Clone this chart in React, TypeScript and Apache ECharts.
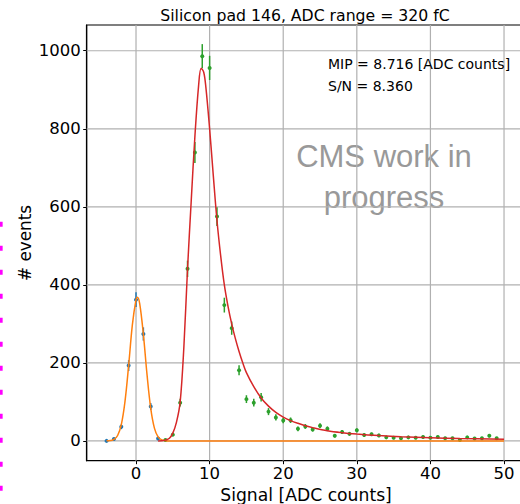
import React, { useEffect, useRef } from "react";
import * as echarts from "echarts";

// Tick values
const xTicks = [0, 10, 20, 30, 40, 50];
const yTicks = [0, 200, 400, 600, 800, 1000];

// Pedestal histogram (blue)
const pedX = [-4, -3, -2, -1, 0, 1, 2, 3];
const pedY = [0, 5, 36, 193, 362, 274, 88, 6];
const pedErr = [1, 2, 6, 14, 19, 17, 9, 2.5];

// Signal histogram (green)
const sigX = [4, 5, 6, 7, 8, 9, 10, 11, 12, 13, 14, 15, 16, 17, 18, 19, 20, 21, 22, 23, 24, 25, 26, 27, 28, 29, 30, 31, 32, 33, 34, 35, 36, 37, 38, 39, 40, 41, 42, 43, 44, 45, 46, 47, 48, 49];
const sigY = [2, 16, 98, 441, 739, 986, 956, 575, 348, 289, 181, 107, 98, 112, 75, 60, 52, 53, 31, 37, 29, 39, 31, 13, 23, 18, 27, 15, 17, 14, 9, 8, 7, 9, 8, 10, 8, 10, 7, 7, 2, 9, 6, 7, 13, 7];
const sigErr = [1.4, 4, 10, 21, 27, 31, 31, 24, 19, 17, 13, 10, 10, 11, 9, 8, 7, 7, 6, 6, 5, 6, 6, 4, 5, 4, 5, 4, 4, 4, 3, 3, 3, 3, 3, 3, 3, 3, 3, 3, 1.4, 3, 2.5, 3, 3.6, 3];

// Pedestal fit curve (orange)
const pedFitX = [-4, -3.5, -3, -2.5, -2, -1.5, -1, -0.5, 0, 0.19, 0.5, 1, 1.5, 2, 2.5, 3, 3.5, 4, 4.5, 50];
const pedFitY = [0.1, 0.8, 3.6, 13.8, 41.8, 100.8, 193.6, 296.5, 362, 368, 352, 273, 169, 83.3, 32.7, 10.3, 2.6, 0.5, 0, 0];

// Signal fit curve (red)
const sigFitX = [3, 3.5, 4, 4.5, 5, 5.5, 6, 6.5, 7, 7.5, 8, 8.5, 8.85, 9.2, 9.5, 10, 10.5, 11, 11.5, 12, 12.5, 13, 13.5, 14, 14.5, 15, 16, 17, 18, 19, 20, 21, 22, 23, 24, 26, 28, 30, 33, 36, 40, 44, 50];
const sigFitY = [0, 0.5, 2, 6, 20, 48, 100, 240, 441, 615, 780, 910, 955, 945, 905, 800, 680, 565, 475, 400, 345, 300, 262, 229, 200, 175, 139, 110, 89, 73, 61, 52, 45, 39, 34, 26, 21, 17.5, 13.5, 10.5, 8, 6, 4.5];

const BLUE = "#1f77b4";
const ORANGE = "#ff7f0e";
const GREEN = "#2ca02c";
const RED = "#d62728";
const FONT = "DejaVu Sans";

function errorSeries(xs: number[], ys: number[], es: number[], color: string) {
  return {
    type: "custom",
    z: 3,
    data: xs.map((x, i) => [x, ys[i], es[i]]),
    encode: { x: 0, y: 1 },
    renderItem: (params: any, api: any) => {
      const x = api.value(0);
      const y = api.value(1);
      const e = api.value(2);
      const top = api.coord([x, y + e]);
      const bot = api.coord([x, y - e]);
      const c = api.coord([x, y]);
      return {
        type: "group",
        children: [
          { type: "line", shape: { x1: top[0], y1: top[1], x2: bot[0], y2: bot[1] }, style: { stroke: color, lineWidth: 1.5 } },
          { type: "circle", shape: { cx: c[0], cy: c[1], r: 2 }, style: { fill: color } },
        ],
      };
    },
  };
}

function gridSeries(vals: number[], vertical: boolean) {
  return {
    type: "custom",
    z: 1,
    silent: true,
    data: vals.map((v) => (vertical ? [v, 0] : [0, v])),
    encode: { x: 0, y: 1 },
    renderItem: (params: any, api: any) => {
      const cs = params.coordSys;
      const p = api.coord([api.value(0), api.value(1)]);
      const shape = vertical
        ? { x1: p[0], y1: cs.y, x2: p[0], y2: cs.y + cs.height }
        : { x1: cs.x, y1: p[1], x2: cs.x + cs.width, y2: p[1] };
      return { type: "line", shape, style: { stroke: "#b0b0b0", lineWidth: 1.2 } };
    },
  };
}

export default function App() {
  const ref = useRef<HTMLDivElement>(null);
  useEffect(() => {
    if (!ref.current) return;
    const chart = echarts.init(ref.current, undefined, { renderer: "svg" });
    chart.setOption({
      animation: false,
      backgroundColor: "#ffffff",
      grid: {
        left: 86.7,
        top: 25,
        width: 437.2,
        height: 435.7,
        show: true,
        borderColor: "#000",
        borderWidth: 1.2,
        backgroundColor: "transparent",
      },
      xAxis: {
        type: "value",
        min: -6.7,
        max: 52.7,
        axisLine: { show: true, onZero: false, lineStyle: { color: "#000", width: 1.2 } },
        axisTick: { show: true, customValues: xTicks, length: 3.5, lineStyle: { color: "#000", width: 1 } },
        axisLabel: { customValues: xTicks, fontSize: 16.5, color: "#000", fontFamily: FONT, margin: 4, formatter: (v: number) => String(v) },
        splitLine: { show: false },
      },
      yAxis: {
        type: "value",
        min: -50.8,
        max: 1066,
        axisLine: { show: true, onZero: false, lineStyle: { color: "#000", width: 1.2 } },
        axisTick: { show: true, customValues: yTicks, length: 3.5, lineStyle: { color: "#000", width: 1 } },
        axisLabel: { customValues: yTicks, fontSize: 16.5, color: "#000", fontFamily: FONT, margin: 6, formatter: (v: number) => String(v) },
        splitLine: { show: false },
      },
      graphic: [
        {
          type: "text",
          z: 0,
          x: 384,
          y: 156,
          style: { text: "CMS work in", fill: "#999999", font: "31px 'Liberation Sans'", align: "center", verticalAlign: "middle" },
        },
        {
          type: "text",
          z: 0,
          x: 384,
          y: 197.6,
          style: { text: "progress", fill: "#999999", font: "31px 'Liberation Sans'", align: "center", verticalAlign: "middle" },
        },
        {
          type: "text",
          x: 305,
          y: 15,
          style: { text: "Silicon pad 146, ADC range = 320 fC", fill: "#000", font: `15.7px '${FONT}'`, align: "center", verticalAlign: "middle" },
        },
        {
          type: "text",
          x: 328,
          y: 64.3,
          z: 10,
          style: { text: "MIP = 8.716 [ADC counts]", fill: "#000", font: `14px '${FONT}'`, align: "left", verticalAlign: "middle" },
        },
        {
          type: "text",
          x: 328,
          y: 86,
          z: 10,
          style: { text: "S/N = 8.360", fill: "#000", font: `14px '${FONT}'`, align: "left", verticalAlign: "middle" },
        },
        {
          type: "text",
          x: 306,
          y: 495,
          style: { text: "Signal [ADC counts]", fill: "#000", font: `17.2px '${FONT}'`, align: "center", verticalAlign: "middle" },
        },
        {
          type: "text",
          x: 24.5,
          y: 243,
          rotation: Math.PI / 2,
          style: { text: "# events", fill: "#000", font: `16.8px '${FONT}'`, align: "center", verticalAlign: "middle" },
        },
        {
          type: "line",
          shape: { x1: 1.3, y1: 221.7, x2: 1.3, y2: 504 },
          style: { stroke: "#ff00ff", lineWidth: 2.7, lineDash: [5, 19] },
        },
      ],
      series: [
        gridSeries(xTicks, true),
        gridSeries(yTicks, false),
        errorSeries(pedX, pedY, pedErr, BLUE),
        {
          type: "line",
          z: 4,
          showSymbol: false,
          smooth: 0.35,
          data: pedFitX.map((x, i) => [x, pedFitY[i]]),
          lineStyle: { color: ORANGE, width: 1.5 },
        },
        errorSeries(sigX, sigY, sigErr, GREEN),
        {
          type: "line",
          z: 5,
          showSymbol: false,
          smooth: 0.35,
          data: sigFitX.map((x, i) => [x, sigFitY[i]]),
          lineStyle: { color: RED, width: 1.5 },
        },
      ],
    });
    return () => chart.dispose();
  }, []);
  return (
    <div style={{ position: "fixed", left: 0, top: 0, width: 520, height: 504, overflow: "hidden", background: "#fff" }}>
      <div ref={ref} style={{ width: 540, height: 504 }} />
    </div>
  );
}
